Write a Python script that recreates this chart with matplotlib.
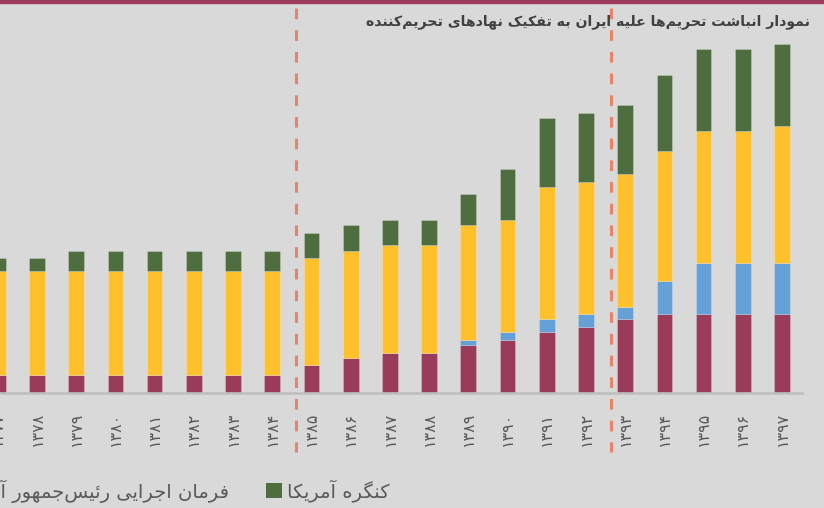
import matplotlib
matplotlib.use("Agg")
import matplotlib.pyplot as plt
from matplotlib.patches import Patch
from matplotlib.transforms import blended_transform_factory
import numpy as np

# data (number of sanctions, stacked by the issuing body)
years = [1377, 1378, 1379, 1380, 1381, 1382, 1383, 1384, 1385, 1386,
         1387, 1388, 1389, 1390, 1391, 1392, 1393, 1394, 1395, 1396, 1397]
un_council = [7, 7, 7, 7, 7, 7, 7, 7, 11, 14,
              16, 16, 19, 21, 24, 26, 29, 31, 31, 31, 31]
eu_union = [0, 0, 0, 0, 0, 0, 0, 0, 0, 0,
            0, 0, 2, 3, 5, 5, 5, 13, 20, 20, 20]
us_executive = [41, 41, 41, 41, 41, 41, 41, 41, 42, 42,
                42, 42, 45, 44, 52, 52, 52, 51, 52, 52, 54]
us_congress = [5, 5, 8, 8, 8, 8, 8, 8, 10, 10,
               10, 10, 12, 20, 27, 27, 27, 30, 32, 32, 32]
series_names = ["شورای امنیت سازمان ملل", "اتحادیه اروپا",
                "فرمان اجرایی رئیس\u200cجمهور آمریکا", "کنگره آمریکا"]
title = "نمودار انباشت تحریم\u200cها علیه ایران به تفکیک نهادهای تحریم\u200cکننده"
period_breaks = [7.6, 15.65]   # dashed separators between periods

colors = ["#9B3B5A", "#65A0D6", "#FFC12B", "#4E6E3F"]
bg = "#D9D9D9"

# matplotlib has no arabic shaping, so pick presentation forms by hand
# (isolated, final, initial, medial); None = does not join to the next
FORMS = {
    "\u0627": ("\uFE8D", "\uFE8E", None, None),
    "\u0622": ("\uFE81", "\uFE82", None, None),
    "\u0628": ("\uFE8F", "\uFE90", "\uFE91", "\uFE92"),
    "\u067E": ("\uFB56", "\uFB57", "\uFB58", "\uFB59"),
    "\u062A": ("\uFE95", "\uFE96", "\uFE97", "\uFE98"),
    "\u062B": ("\uFE99", "\uFE9A", "\uFE9B", "\uFE9C"),
    "\u062C": ("\uFE9D", "\uFE9E", "\uFE9F", "\uFEA0"),
    "\u0686": ("\uFB7A", "\uFB7B", "\uFB7C", "\uFB7D"),
    "\u062D": ("\uFEA1", "\uFEA2", "\uFEA3", "\uFEA4"),
    "\u062E": ("\uFEA5", "\uFEA6", "\uFEA7", "\uFEA8"),
    "\u062F": ("\uFEA9", "\uFEAA", None, None),
    "\u0630": ("\uFEAB", "\uFEAC", None, None),
    "\u0631": ("\uFEAD", "\uFEAE", None, None),
    "\u0632": ("\uFEAF", "\uFEB0", None, None),
    "\u0698": ("\uFB8A", "\uFB8B", None, None),
    "\u0633": ("\uFEB1", "\uFEB2", "\uFEB3", "\uFEB4"),
    "\u0634": ("\uFEB5", "\uFEB6", "\uFEB7", "\uFEB8"),
    "\u0635": ("\uFEB9", "\uFEBA", "\uFEBB", "\uFEBC"),
    "\u0636": ("\uFEBD", "\uFEBE", "\uFEBF", "\uFEC0"),
    "\u0637": ("\uFEC1", "\uFEC2", "\uFEC3", "\uFEC4"),
    "\u0638": ("\uFEC5", "\uFEC6", "\uFEC7", "\uFEC8"),
    "\u0639": ("\uFEC9", "\uFECA", "\uFECB", "\uFECC"),
    "\u063A": ("\uFECD", "\uFECE", "\uFECF", "\uFED0"),
    "\u0641": ("\uFED1", "\uFED2", "\uFED3", "\uFED4"),
    "\u0642": ("\uFED5", "\uFED6", "\uFED7", "\uFED8"),
    "\u06A9": ("\uFB8E", "\uFB8F", "\uFB90", "\uFB91"),
    "\u06AF": ("\uFB92", "\uFB93", "\uFB94", "\uFB95"),
    "\u0644": ("\uFEDD", "\uFEDE", "\uFEDF", "\uFEE0"),
    "\u0645": ("\uFEE1", "\uFEE2", "\uFEE3", "\uFEE4"),
    "\u0646": ("\uFEE5", "\uFEE6", "\uFEE7", "\uFEE8"),
    "\u0648": ("\uFEED", "\uFEEE", None, None),
    "\u0647": ("\uFEE9", "\uFEEA", "\uFEEB", "\uFEEC"),
    "\u06CC": ("\uFBFC", "\uFBFD", "\uFBFE", "\uFBFF"),
    "\u0626": ("\uFE89", "\uFE8A", "\uFE8B", "\uFE8C"),
}


def fa(text):
    out = []
    for k, ch in enumerate(text):
        if ch not in FORMS:
            if ch != "\u200c":
                out.append(ch)
            continue
        prev = text[k - 1] if k > 0 else ""
        nxt = text[k + 1] if k + 1 < len(text) else ""
        iso, fin, ini, med = FORMS[ch]
        jp = prev in FORMS and FORMS[prev][2] is not None
        jn = nxt in FORMS and ini is not None
        if jp and jn:
            out.append(med)
        elif jp:
            out.append(fin)
        elif jn:
            out.append(ini)
        else:
            out.append(iso)
    return "".join(out)[::-1]


def fa_digits(n):
    return str(n).translate(str.maketrans("0123456789", "۰۱۲۳۴۵۶۷۸۹"))


plt.rcParams["font.family"] = ["DejaVu Sans"]

fig = plt.figure(figsize=(8.24, 5.08), dpi=100, facecolor=bg)
ax = fig.add_axes([-0.02646, 0.22579, 0.99927, 0.73484])
ax.set_facecolor(bg)

x = np.arange(len(years))
bottom = np.zeros(len(years))
stack = [un_council, eu_union, us_executive, us_congress]
for vals, c, name in zip(stack, colors, series_names):
    ax.bar(x, vals, width=0.4, bottom=bottom, color=c,
           edgecolor=(1, 1, 1, 0.25), linewidth=0.6, label=fa(name))
    bottom += np.array(vals)

ax.set_xlim(-0.5, len(years) - 0.5)
ax.set_ylim(0, 146.4)
ax.set_yticks([])
ax.set_xticks(x)
ax.set_xticklabels([fa_digits(y) for y in years], rotation=90,
                   fontsize=11.5, color="#595959")
ax.tick_params(axis="x", length=0, pad=13.5)
for side in ["left", "right", "top"]:
    ax.spines[side].set_visible(False)
ax.spines["bottom"].set_color("#BFBFBF")
ax.spines["bottom"].set_linewidth(1.9)

# dashed separators, running past the axes
trans = blended_transform_factory(ax.transData, fig.transFigure)
for xb in period_breaks:
    ax.plot([xb, xb], [0.9843, 0.1102], transform=trans, clip_on=False,
            color="#E8836B", linewidth=2.2, dashes=(3.5, 3.6), zorder=5)

fig.text(0.983, 0.958, fa(title), ha="right", va="center",
         fontsize=10.2, fontweight="bold", color="#404040")

# band across the top
fig.patches.append(plt.Rectangle((0, 0.994), 1, 0.006,
                                 transform=fig.transFigure,
                                 color="#9E3A5E"))

handles = [Patch(facecolor=c) for c in colors]
fig.legend(handles, [fa(n) for n in series_names], ncol=4,
           loc="center right", bbox_to_anchor=(390 / 824, 1 - 491 / 508),
           frameon=False, fontsize=14, labelcolor="#595959",
           handlelength=0.82, handleheight=0.82, handletextpad=0.26,
           columnspacing=1.9, borderpad=0, borderaxespad=0)

fig.savefig("out.png", dpi=100, facecolor=bg)
